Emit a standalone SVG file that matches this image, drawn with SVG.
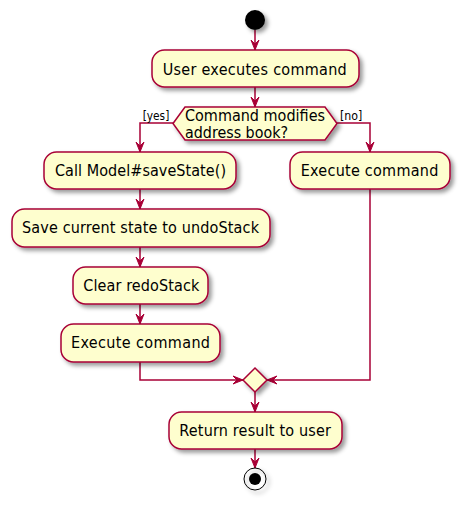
<svg xmlns="http://www.w3.org/2000/svg" width="465" height="507" viewBox="0 0 465 507">
<defs>
<filter id="sh" x="-1" y="-1" width="300%" height="300%">
<feGaussianBlur in="SourceAlpha" stdDeviation="2" result="b"/>
<feColorMatrix in="b" type="matrix" values="0 0 0 0 0  0 0 0 0 0  0 0 0 0 0  0 0 0 0.4 0" result="c"/>
<feOffset in="c" dx="3" dy="3" result="o"/>
<feMerge><feMergeNode in="o"/><feMergeNode in="SourceGraphic"/></feMerge>
</filter>
<marker id="ah" viewBox="0 0 10 10" refX="10" refY="5" markerWidth="10" markerHeight="10" orient="auto" markerUnits="userSpaceOnUse">
<path d="M0,1 L10,5 L0,9 L4,5 Z" fill="#A80036" stroke="#A80036" stroke-width="1"/>
</marker>
</defs>
<style>
.box{fill:#FEFECE;stroke:#A80036;stroke-width:1.5;filter:url(#sh)}
.t{font-family:"DejaVu Sans Condensed","DejaVu Sans",sans-serif;font-size:16px;fill:#000}
.h{font-family:"DejaVu Sans Condensed","DejaVu Sans",sans-serif;font-size:15px;fill:#000}
.lbl{font-family:"DejaVu Sans Condensed","DejaVu Sans",sans-serif;font-size:12px;fill:#000}
.c{fill:none;stroke:#A80036;stroke-width:1.5}
</style>
<rect width="465" height="507" fill="#fff"/>
<g id="connectors">
<line class="c" x1="255" y1="30" x2="255" y2="50" marker-end="url(#ah)"/>
<line class="c" x1="255" y1="87" x2="255" y2="107" marker-end="url(#ah)"/>
<polyline class="c" points="173,123 140,123 140,152" marker-end="url(#ah)"/>
<polyline class="c" points="337,123 370,123 370,152" marker-end="url(#ah)"/>
<line class="c" x1="140" y1="189" x2="140" y2="209" marker-end="url(#ah)"/>
<line class="c" x1="140" y1="247" x2="140" y2="267" marker-end="url(#ah)"/>
<line class="c" x1="140" y1="304" x2="140" y2="324" marker-end="url(#ah)"/>
<polyline class="c" points="140,362 140,380 243,380" marker-end="url(#ah)"/>
<polyline class="c" points="370,189 370,380 267,380" marker-end="url(#ah)"/>
<line class="c" x1="255" y1="392" x2="255" y2="412" marker-end="url(#ah)"/>
<line class="c" x1="255" y1="449" x2="255" y2="468" marker-end="url(#ah)"/>
<text class="lbl" x="142.7" y="120" textLength="26.6" lengthAdjust="spacingAndGlyphs">[yes]</text>
<text class="lbl" x="340" y="120" textLength="22.3" lengthAdjust="spacingAndGlyphs">[no]</text>
</g>
<g id="start"><circle cx="255" cy="20" r="10" fill="#000" filter="url(#sh)"/></g>
<g id="user-executes"><rect class="box" x="152" y="50" width="207" height="37" rx="12.5"/><text class="t" x="162.7" y="75" textLength="184">User executes command</text></g>
<g id="decision"><polygon class="box" points="173,123.5 185,107 325,107 337,123.5 325,140 185,140"/><text class="h" x="185" y="120.5" textLength="140" lengthAdjust="spacingAndGlyphs">Command modifies</text><text class="h" x="185" y="138" textLength="103" lengthAdjust="spacingAndGlyphs">address book?</text></g>
<g id="save-state"><rect class="box" x="44" y="152" width="192" height="37" rx="12.5"/><text class="t" x="55" y="176" textLength="171">Call Model#saveState()</text></g>
<g id="save-current"><rect class="box" x="12" y="209" width="258" height="38" rx="12.5"/><text class="t" x="22" y="233.3" textLength="237">Save current state to undoStack</text></g>
<g id="clear-redo"><rect class="box" x="73" y="267" width="135" height="37" rx="12.5"/><text class="t" x="83.3" y="290.7" textLength="116">Clear redoStack</text></g>
<g id="execute-left"><rect class="box" x="61" y="324" width="159" height="38" rx="12.5"/><text class="t" x="71" y="348.3" textLength="139">Execute command</text></g>
<g id="execute-right"><rect class="box" x="290" y="152" width="160" height="37" rx="12.5"/><text class="t" x="300.7" y="176" textLength="137.6">Execute command</text></g>
<g id="merge"><polygon class="box" points="255,368 267,380 255,392 243,380"/></g>
<g id="return"><rect class="box" x="169" y="412" width="173" height="37" rx="12.5"/><text class="t" x="179.3" y="436" textLength="151.7">Return result to user</text></g>
<g id="end"><circle cx="255" cy="479" r="11" fill="none" stroke="#000" stroke-width="1" filter="url(#sh)"/><circle cx="255" cy="479" r="6" fill="#000"/></g>
</svg>
